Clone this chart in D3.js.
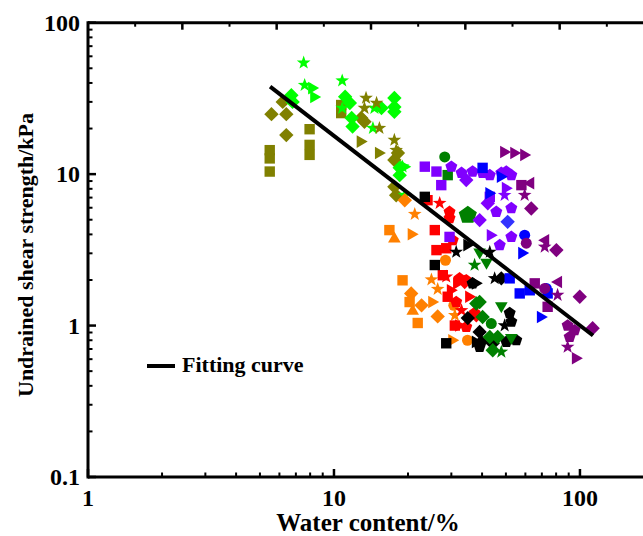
<!DOCTYPE html>
<html>
<head>
<meta charset="utf-8">
<script src="https://cdn.jsdelivr.net/npm/d3@7"></script>
<style>
html,body{margin:0;padding:0;background:#fff;}
svg{display:block;}
text{font-family:"Liberation Serif","Times New Roman",serif;font-weight:bold;fill:#000;}
</style>
</head>
<body>
<svg id="chart" width="643" height="536"></svg>
<script>
// ---------------- data (water content %, undrained shear strength kPa) ----------------
const oliveSquares  = [[5.48,14.4],[5.48,12.7],[5.48,10.4],[7.96,19.8],[7.96,15.6],[7.96,13.4],[10.7,28.6],[10.7,25.3]];
const oliveDiamonds = [[5.57,24.9],[6.40,24.9],[6.40,18.1],[6.19,30.0],[12.9,23.5],[13.3,22.2],[17.6,12.4],[17.6,8.24],[17.9,7.26],[18.2,13.8]];
const oliveStars    = [[13.5,31.8],[14.9,29.5],[15.3,20.1],[17.6,16.8],[13.3,27.3],[17.9,14.4]];
const oliveRightTri = [[12.9,16.4],[15.3,13.8]];

const limeStars     = [[7.53,54.4],[7.60,38.7],[10.8,41.4],[14.4,20.1],[14.6,27.3],[10.8,27.3],[19.0,11.2],[19.4,7.26]];
const limeRightTri  = [[8.19,37.0],[8.35,32.3],[19.4,11.2]];
const limeDiamonds  = [[6.71,33.2],[6.79,30.0],[11.1,32.4],[11.6,29.5],[11.8,23.5],[11.9,20.6],[17.6,31.8],[17.6,27.8],[17.6,25.8],[15.6,27.3],[18.5,11.0],[18.5,9.85]];

const orangeSquares  = [[16.8,4.27],[19.0,1.99],[20.3,1.43],[21.9,1.04]];
const orangeDiamonds = [[19.4,6.73],[20.6,1.63],[22.7,1.36],[26.4,1.15]];
const orangeStars    = [[21.3,5.44],[24.9,2.01],[26.4,1.74],[31.0,1.17]];
const orangeTriUp    = [[17.6,3.78],[20.9,1.26]];
const orangeRightTri = [[20.8,4.01],[25.2,1.43],[30.4,0.80]];
const orangeCircles  = [[28.4,2.70],[30.7,1.36],[34.9,0.80]];

const redSquares   = [[24.0,6.73],[25.7,4.27],[26.1,3.15],[27.7,2.15],[29.0,1.55],[31.0,1.00],[28.6,3.24]];
const redPentagons = [[29.5,5.63],[29.5,5.12],[32.4,2.05],[34.5,1.99],[31.4,1.43],[37.3,1.21],[34.5,0.979],[30.4,3.66]];
const redStars     = [[26.9,6.43],[33.0,1.26],[28.6,2.10]];
const redRightTri  = [[30.0,1.71],[31.8,1.90],[32.4,1.00],[35.6,1.55]];
const redDiamonds  = [[37.9,1.17],[34.0,1.94]];

const blackSquares   = [[23.4,7.08],[25.7,2.51],[28.6,0.764]];
const blackRightTri  = [[35.0,3.40],[37.9,1.90],[37.9,0.78]];
const blackStars     = [[31.4,3.06],[43.0,3.06],[45.0,2.05],[49.4,1.00]];
const blackDiamonds  = [[47.9,2.05],[35.0,1.12],[39.1,0.908],[39.7,0.78],[44.2,0.764]];
const blackPentagons = [[51.8,1.21],[52.6,1.06],[55.1,0.80],[39.1,0.722],[50.2,0.78],[36.6,1.90]];

const greenCircles  = [[28.2,13.0],[43.6,1.03]];
const greenSquares  = [[29.0,9.85]];
const greenPentagons= [[35.0,5.36]];
const greenStars    = [[37.3,2.51],[47.9,0.67]];
const greenTriDown  = [[41.7,2.58],[47.9,1.33],[52.6,0.82],[39.1,3.01]];
const greenDiamonds = [[39.1,1.43],[40.2,1.14],[43.0,0.841],[44.2,0.687],[46.3,0.841],[37.9,1.40]];

const purpleSquares   = [[23.4,11.2],[26.1,10.4],[27.3,8.46],[29.5,3.85],[43.0,7.08]];
const purplePentagons = [[30.0,11.2],[33.0,10.2],[36.6,10.4],[40.2,10.2],[43.0,9.85],[47.9,10.2],[50.2,10.4],[52.6,9.85],[45.7,5.63],[52.6,5.96],[52.6,3.85],[47.2,3.40]];
const purpleDiamonds  = [[39.1,4.97],[34.5,9.13],[42.2,6.43]];
const purpleRightTri  = [[43.6,3.95],[50.2,8.08]];
const purpleStars     = [[49.4,7.26]];

const blueSquares   = [[40.2,11.0],[51.8,2.05],[56.9,1.63],[62.5,1.71],[73.9,1.63]];
const blueRightTri  = [[47.9,9.60],[43.0,7.48],[58.5,3.01],[69.7,1.14]];
const blueCircles   = [[59.6,3.95],[73.0,1.76]];
const blueDiamonds  = [[50.8,4.84]];

const plumRightTri = [[49.4,14.0],[54.3,13.8],[59.6,13.4],[96.7,0.608]];
const plumLeftTri  = [[62.5,8.72],[71.9,3.66],[81.1,1.94]];
const plumSquares  = [[57.8,8.46],[65.5,1.90],[73.9,1.33]];
const plumStars    = [[59.6,7.26],[71.9,3.31],[81.1,1.59],[89.1,0.722]];
const plumDiamonds = [[63.4,5.93],[80.2,3.15],[99.8,1.55],[112.6,0.959]];
const plumCircles  = [[60.5,3.50],[71.9,1.76]];
const plumPentagons= [[89.1,1.00],[95.1,0.931],[90.8,0.841]];

const fitX = [5.5, 113];
const fitY = [37.8, 0.86];

const xTickLabels = ["1","10","100"];
const yTickLabels = ["0.1","1","10","100"];

// ---------------- series table ----------------
const C = {olive:"#808000", lime:"#00ff00", orange:"#ff8000", red:"#ff0000", black:"#000000",
           green:"#008000", purple:"#8000ff", blue:"#0000ff", plum:"#800080", blue2:"#3333ff"};
const series = [
  [oliveSquares,"square",C.olive],[oliveDiamonds,"diamond",C.olive],[oliveRightTri,"right",C.olive],
  [limeDiamonds,"diamond",C.lime],[limeRightTri,"right",C.lime],[limeStars,"star",C.lime],[oliveStars,"star",C.olive],
  [orangeSquares,"square",C.orange],[orangeDiamonds,"diamond",C.orange],[orangeStars,"star",C.orange],
  [orangeTriUp,"up",C.orange],[orangeRightTri,"right",C.orange],[orangeCircles,"circle",C.orange],
  [redSquares,"square",C.red],[redPentagons,"pentagon",C.red],[redStars,"star",C.red],[redRightTri,"right",C.red],[redDiamonds,"diamond",C.red],
  [blackSquares,"square",C.black],[blackRightTri,"right",C.black],[blackStars,"star",C.black],[blackDiamonds,"diamond",C.black],[blackPentagons,"pentagon",C.black],
  [greenCircles,"circle",C.green],[greenSquares,"square",C.green],[greenPentagons,"bigpent",C.green],[greenStars,"star",C.green],[greenTriDown,"down",C.green],[greenDiamonds,"diamond",C.green],
  [purpleSquares,"square",C.purple],[purplePentagons,"pentagon",C.purple],[purpleDiamonds,"diamond",C.purple],[purpleRightTri,"right",C.purple],[purpleStars,"star",C.purple],
  [blueSquares,"square",C.blue],[blueRightTri,"right",C.blue],[blueCircles,"circle",C.blue],[blueDiamonds,"diamond",C.blue2],
  [plumRightTri,"right",C.plum],[plumLeftTri,"left",C.plum],[plumSquares,"square",C.plum],[plumStars,"star",C.plum],
  [plumDiamonds,"diamond",C.plum],[plumCircles,"circle",C.plum],[plumPentagons,"pentagon",C.plum]
];

// ---------------- layout ----------------
const svg = d3.select("#chart");
const PL = 88, PR = 654, PT = 22.7, PB = 477;
const x = d3.scaleLog().domain([1,200]).range([PL,PR]);
const y = d3.scaleLog().domain([0.1,100]).range([PB,PT]);
const xTop = d3.scaleLinear().domain([0,6]).range([PL,PR]);

// shape paths centred at 0,0
function poly(pts){return "M"+pts.map(p=>p[0].toFixed(2)+","+p[1].toFixed(2)).join("L")+"Z";}
function rotPts(pts,deg){const a=deg*Math.PI/180,c=Math.cos(a),s=Math.sin(a);return pts.map(([px,py])=>[px*c-py*s,px*s+py*c]);}
const tri = [[0,-6.5],[6.3,4.5],[-6.3,4.5]];
function shapePath(kind){
  switch(kind){
    case "square": return poly([[-5.2,-5.2],[5.2,-5.2],[5.2,5.2],[-5.2,5.2]]);
    case "diamond": return poly([[0,-7.2],[7.2,0],[0,7.2],[-7.2,0]]);
    case "circle": return d3.symbol(d3.symbolCircle,95)();
    case "up": return poly(tri);
    case "down": return poly(rotPts(tri,180));
    case "right": return poly(rotPts(tri,90));
    case "left": return poly(rotPts(tri,-90));
    case "star": {const p=[];for(let i=0;i<10;i++){const r=i%2?2.9:7.2,a=-Math.PI/2+i*Math.PI/5;p.push([r*Math.cos(a),r*Math.sin(a)]);}return poly(p);}
    case "pentagon": {const p=[];for(let i=0;i<5;i++){const a=-Math.PI/2+i*2*Math.PI/5;p.push([6.3*Math.cos(a),6.3*Math.sin(a)]);}return poly(p);}
    case "bigpent": {const p=[];for(let i=0;i<5;i++){const a=-Math.PI/2+i*2*Math.PI/5;p.push([9.5*Math.cos(a),9.5*Math.sin(a)]);}return poly(p);}
  }
}

// ---------------- marks ----------------
const gm = svg.append("g");
series.forEach(([data,kind,color])=>{
  const d = shapePath(kind);
  gm.append("g").selectAll("path").data(data).join("path")
    .attr("d",d).attr("fill",color)
    .attr("transform",p=>`translate(${x(p[0])},${y(p[1])})`);
});

// fitting line
const fit = fitX.map((v,i)=>[v,fitY[i]]);
svg.append("path").datum(fit)
  .attr("d",d3.line().x(d=>x(d[0])).y(d=>y(d[1])))
  .attr("stroke","#000").attr("stroke-width",4).attr("fill","none");

// ---------------- axes ----------------
const ga = svg.append("g").attr("stroke","#000");
ga.append("line").attr("x1",PL).attr("x2",643).attr("y1",PB).attr("y2",PB).attr("stroke-width",3);
ga.append("line").attr("x1",PL).attr("x2",643).attr("y1",PT).attr("y2",PT).attr("stroke-width",3);
ga.append("line").attr("x1",PL).attr("x2",PL).attr("y1",PT-1.5).attr("y2",PB+1.5).attr("stroke-width",3);

// y ticks
const yMajor = yTickLabels.map(Number);
const yMinor = [];
[0.1,1,10].forEach(b=>{for(let k=2;k<=9;k++) yMinor.push(b*k);});
ga.selectAll(".ymaj").data(yMajor).join("line").attr("class","ymaj").attr("x1",PL).attr("x2",PL+8)
  .attr("y1",d=>y(d)).attr("y2",d=>y(d)).attr("stroke-width",2.5);
ga.selectAll(".ymin").data(yMinor).join("line").attr("class","ymin").attr("x1",PL).attr("x2",PL+4.5)
  .attr("y1",d=>y(d)).attr("y2",d=>y(d)).attr("stroke-width",2);
// x ticks
const xMajor = xTickLabels.map(Number);
const xMinor = [];
[1,10].forEach(b=>{for(let k=2;k<=9;k++) xMinor.push(b*k);}); xMinor.push(200);
ga.selectAll(".xmaj").data(xMajor).join("line").attr("class","xmaj").attr("y1",PB).attr("y2",PB-8)
  .attr("x1",d=>x(d)).attr("x2",d=>x(d)).attr("stroke-width",2.5);
ga.selectAll(".xmin").data(xMinor).join("line").attr("class","xmin").attr("y1",PB).attr("y2",PB-4.5)
  .attr("x1",d=>x(d)).attr("x2",d=>x(d)).attr("stroke-width",2);
// top ticks (linear)
const tMaj = d3.range(1,6,1), tMin = d3.range(0.5,6.5,1);
ga.selectAll(".tmaj").data(tMaj).join("line").attr("class","tmaj").attr("y1",PT).attr("y2",PT+7)
  .attr("x1",d=>xTop(d)).attr("x2",d=>xTop(d)).attr("stroke-width",2.5);
ga.selectAll(".tmin").data(tMin).join("line").attr("class","tmin").attr("y1",PT).attr("y2",PT+4)
  .attr("x1",d=>xTop(d)).attr("x2",d=>xTop(d)).attr("stroke-width",2);

// tick labels
svg.selectAll(".yl").data(yTickLabels).join("text").attr("class","yl")
  .attr("x",80).attr("y",d=>y(+d)+8).attr("text-anchor","end").attr("font-size",24).text(d=>d);
svg.selectAll(".xl").data(xTickLabels).join("text").attr("class","xl")
  .attr("x",d=>x(+d)).attr("y",506).attr("text-anchor","middle").attr("font-size",24).text(d=>d);

// titles
svg.append("text").attr("x",368).attr("y",531).attr("text-anchor","middle").attr("font-size",25).text("Water content/%");
svg.append("text").attr("transform","translate(33,255) rotate(-90)").attr("text-anchor","middle").attr("font-size",22).text("Undrained shear strength/kPa");

// legend
svg.append("line").attr("x1",147).attr("x2",175).attr("y1",366).attr("y2",366).attr("stroke","#000").attr("stroke-width",4);
svg.append("text").attr("x",182).attr("y",372).attr("font-size",22).text("Fitting curve");
</script>
</body>
</html>
